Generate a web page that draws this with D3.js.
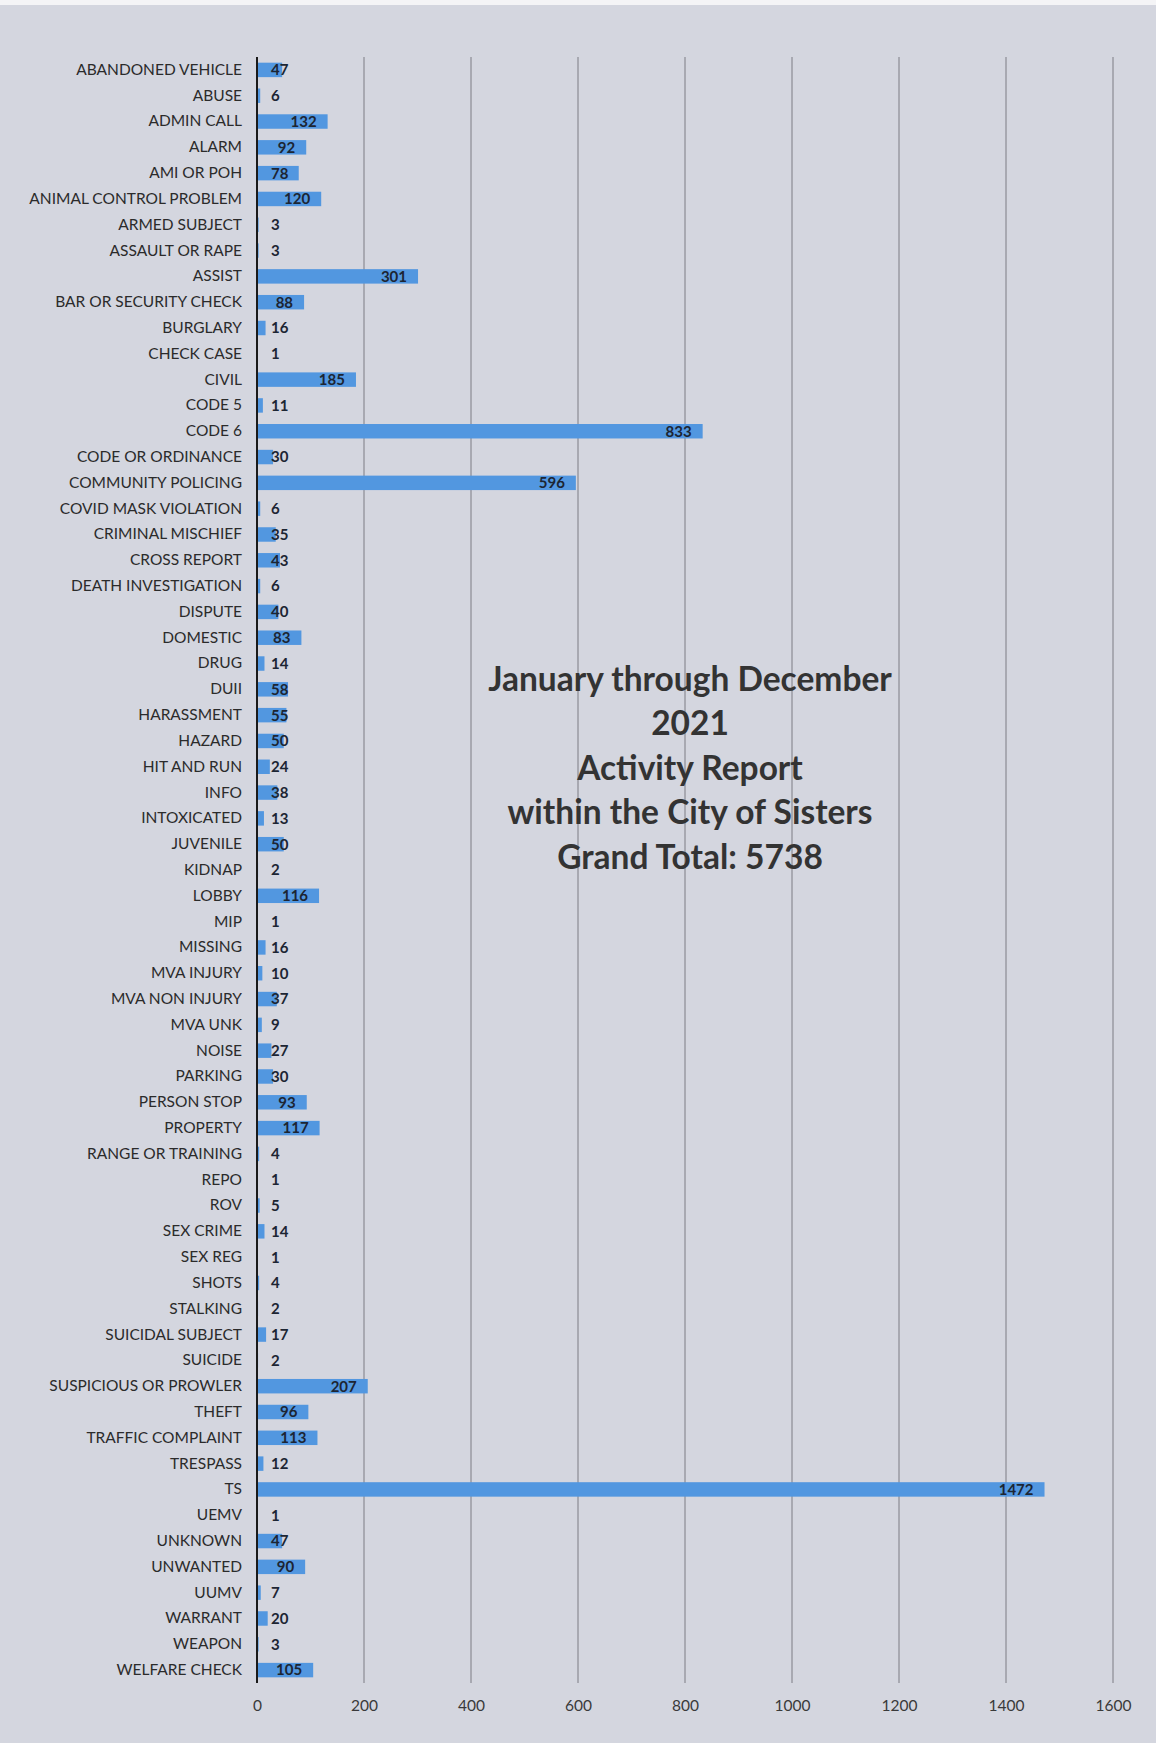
<!DOCTYPE html>
<html>
<head>
<meta charset="utf-8">
<script src="https://cdn.jsdelivr.net/npm/d3@7"></script>
<style>
  html, body { margin: 0; padding: 0; background: #d4d6df; }
  svg { display: block; }
</style>
</head>
<body>
<svg id="chart" width="1156" height="1743"></svg>
<script>
const categories = [
  "ABANDONED VEHICLE","ABUSE","ADMIN CALL","ALARM","AMI OR POH","ANIMAL CONTROL PROBLEM",
  "ARMED SUBJECT","ASSAULT OR RAPE","ASSIST","BAR OR SECURITY CHECK","BURGLARY","CHECK CASE",
  "CIVIL","CODE 5","CODE 6","CODE OR ORDINANCE","COMMUNITY POLICING","COVID MASK VIOLATION",
  "CRIMINAL MISCHIEF","CROSS REPORT","DEATH INVESTIGATION","DISPUTE","DOMESTIC","DRUG","DUII",
  "HARASSMENT","HAZARD","HIT AND RUN","INFO","INTOXICATED","JUVENILE","KIDNAP","LOBBY","MIP",
  "MISSING","MVA INJURY","MVA NON INJURY","MVA UNK","NOISE","PARKING","PERSON STOP","PROPERTY",
  "RANGE OR TRAINING","REPO","ROV","SEX CRIME","SEX REG","SHOTS","STALKING","SUICIDAL SUBJECT",
  "SUICIDE","SUSPICIOUS OR PROWLER","THEFT","TRAFFIC COMPLAINT","TRESPASS","TS","UEMV","UNKNOWN",
  "UNWANTED","UUMV","WARRANT","WEAPON","WELFARE CHECK"
];
const counts = [
  47,6,132,92,78,120,
  3,3,301,88,16,1,
  185,11,833,30,596,6,
  35,43,6,40,83,14,58,
  55,50,24,38,13,50,2,116,1,
  16,10,37,9,27,30,93,117,
  4,1,5,14,1,4,2,17,
  2,207,96,113,12,1472,1,47,
  90,7,20,3,105
];
const xTicks = [0,200,400,600,800,1000,1200,1400,1600];
const titleLines = [
  "January through December",
  "2021",
  "Activity Report",
  "within the City of Sisters",
  "Grand Total: 5738"
];

const FONT = "Lato, 'Open Sans', sans-serif";
const svg = d3.select("#chart");

svg.append("rect").attr("x",0).attr("y",0).attr("width",1156).attr("height",1743).attr("fill","#d4d6df");
svg.append("rect").attr("x",0).attr("y",0).attr("width",1156).attr("height",5).attr("fill","#f4f4f6");

const x = d3.scaleLinear().domain([0,1600]).range([257,1113]);
const y = d3.scaleBand().domain(categories).range([57,1683]).paddingInner(0.44).paddingOuter(0.22);

// gridlines
svg.append("g").selectAll("line").data(xTicks.slice(1)).join("line")
  .attr("x1", d => x(d)).attr("x2", d => x(d))
  .attr("y1", 57).attr("y2", 1683)
  .attr("stroke", "#7c7c84").attr("stroke-width", 1);

// bars
svg.append("g").selectAll("rect").data(categories).join("rect")
  .attr("x", x(0))
  .attr("y", d => y(d))
  .attr("width", (d,i) => x(counts[i]) - x(0))
  .attr("height", y.bandwidth())
  .attr("fill", "#5297e0");

// axis line
svg.append("line").attr("x1", x(0)).attr("x2", x(0)).attr("y1", 57).attr("y2", 1683)
  .attr("stroke", "#1a1a1a").attr("stroke-width", 2);

// category labels
const yAxis = d3.axisLeft(y).tickSize(0).tickPadding(15);
const gy = svg.append("g").attr("transform", `translate(${x(0)},0)`).call(yAxis);
gy.select(".domain").remove();
gy.selectAll("text").attr("font-family", FONT).attr("font-size", 15.5).attr("fill", "#2b2b2b");

// x axis tick labels
const xAxis = d3.axisBottom(x).tickValues(xTicks).tickFormat(d3.format("d")).tickSize(0).tickPadding(0);
const gx = svg.append("g").attr("transform", `translate(0,1700)`).call(xAxis);
gx.select(".domain").remove();
gx.selectAll("text").attr("font-family", FONT).attr("font-size", 15.5).attr("fill", "#3a3a3a");

// value labels
const vl = svg.append("g").selectAll("text").data(categories).join("text")
  .attr("font-family", FONT).attr("font-size", 15).attr("font-weight", "bold")
  .attr("fill", "#1c2533")
  .attr("y", d => y(d) + y.bandwidth()/2)
  .attr("dy", "0.36em")
  .text((d,i) => counts[i]);
vl.each(function(d,i){
  const w = this.getComputedTextLength();
  const start = Math.max(x(counts[i]) - 11 - w, x(0) + 14);
  d3.select(this).attr("x", start);
});

// title block
svg.append("g").selectAll("text").data(titleLines).join("text")
  .attr("x", 690)
  .attr("y", (d,i) => 679 + i*44.5)
  .attr("dy", "0.35em")
  .attr("text-anchor", "middle")
  .attr("font-family", FONT).attr("font-weight", "bold").attr("font-size", 33.5)
  .attr("fill", "#333333")
  .text(d => d);
</script>
</body>
</html>
